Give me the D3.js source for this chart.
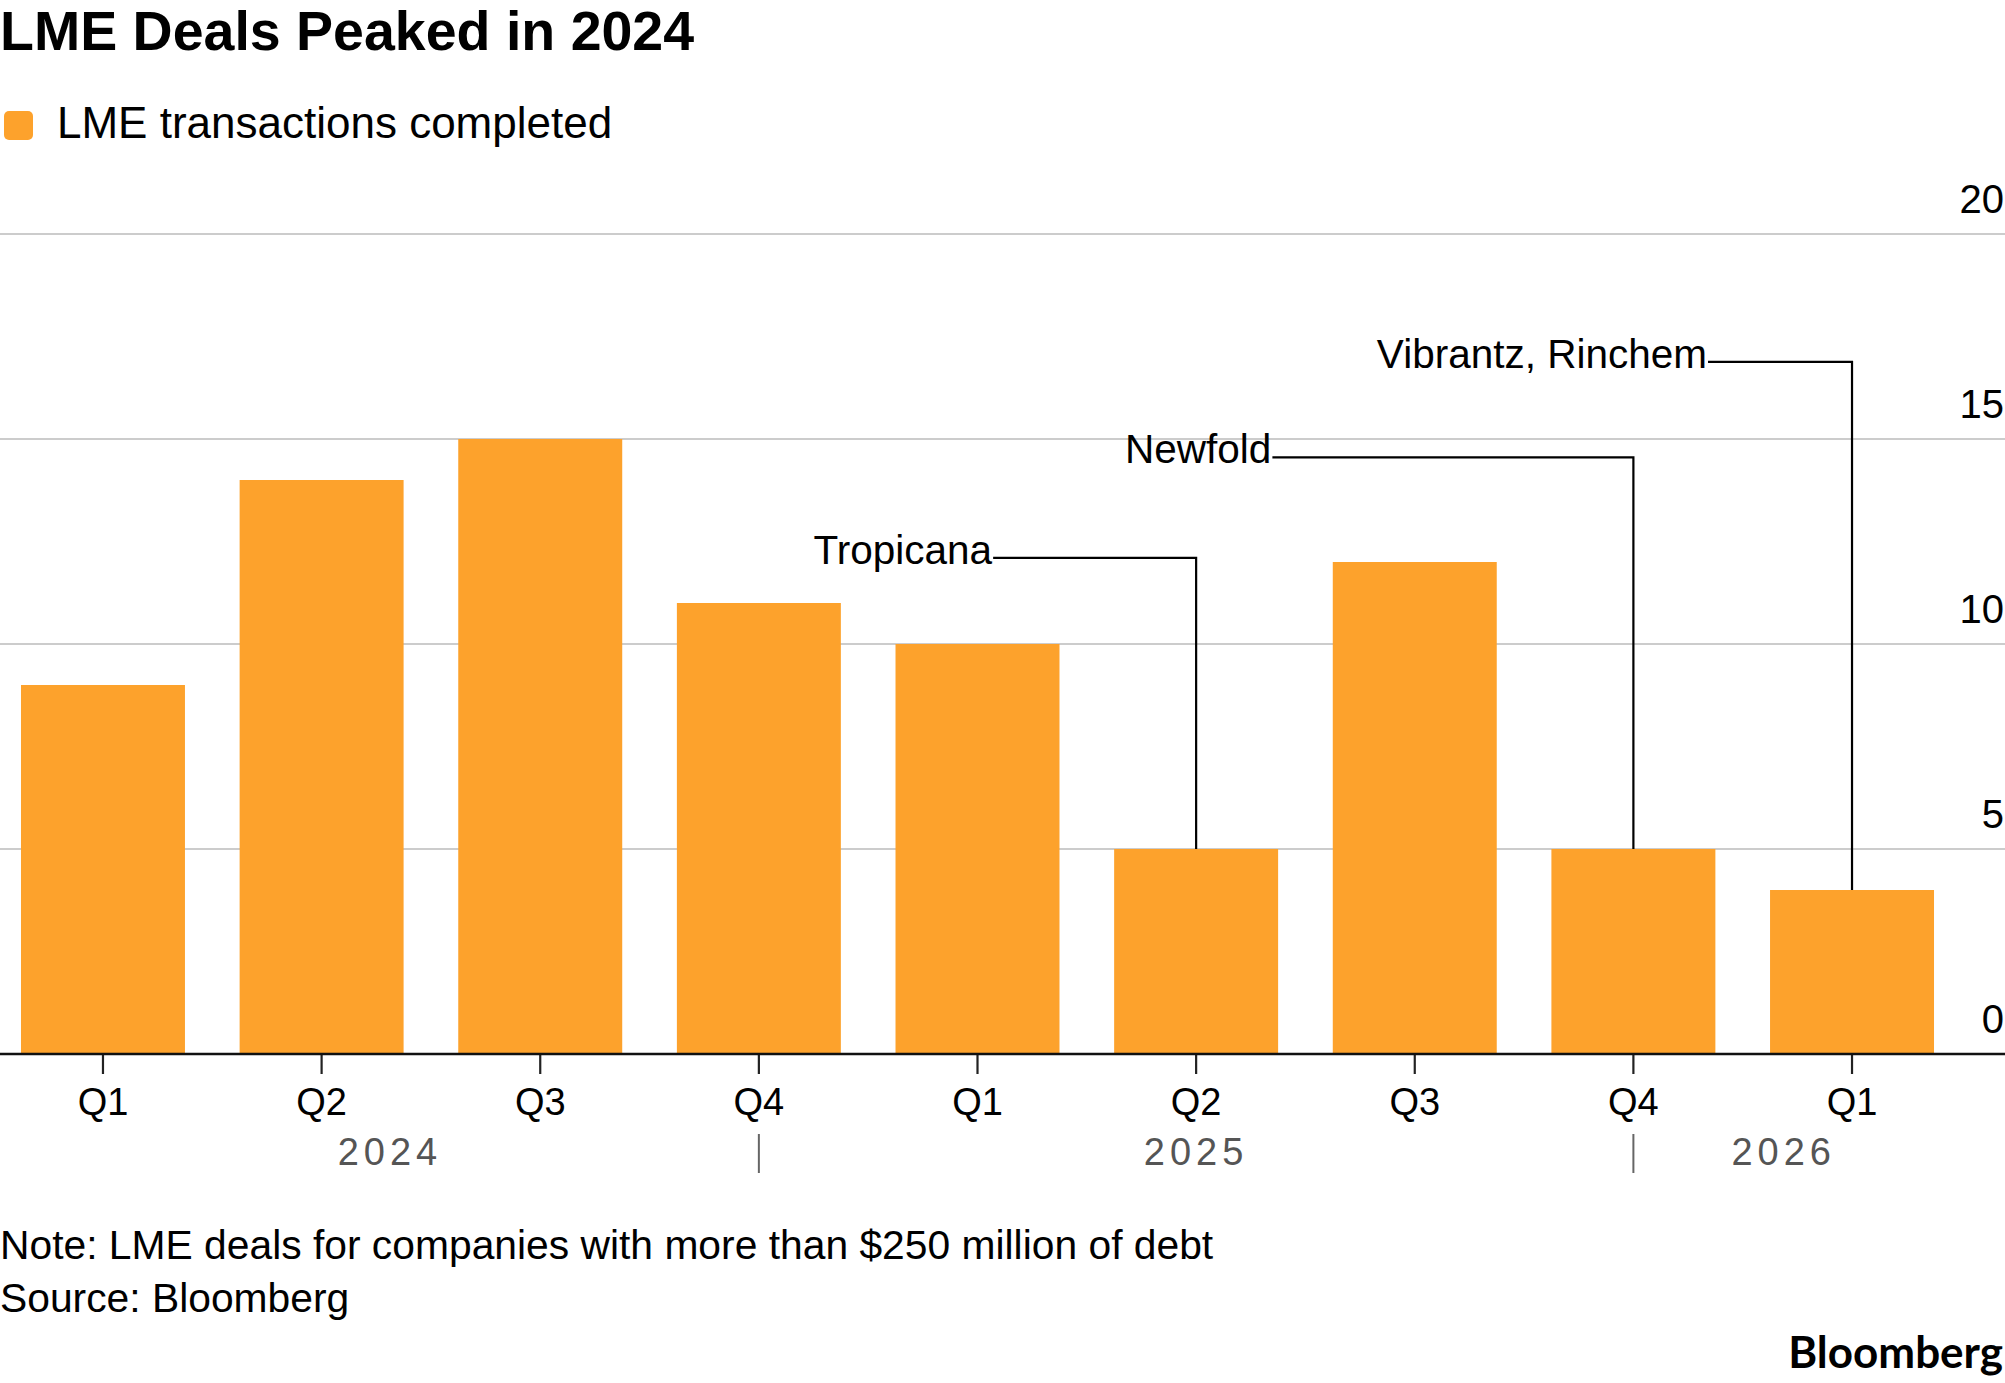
<!DOCTYPE html>
<html>
<head>
<meta charset="utf-8">
<script src="https://cdn.jsdelivr.net/npm/d3@7"></script>
<style>
  html, body { margin: 0; padding: 0; background: #ffffff; }
  svg { display: block; }
  text { font-family: "Liberation Sans", Arial, Helvetica, sans-serif; }
</style>
</head>
<body>
<svg id="chart" width="2005" height="1383"></svg>
<script>
// ---------- DATA ----------
const quarters = ["Q1", "Q2", "Q3", "Q4", "Q1", "Q2", "Q3", "Q4", "Q1"];
const periodKeys = ["2024Q1", "2024Q2", "2024Q3", "2024Q4", "2025Q1", "2025Q2", "2025Q3", "2025Q4", "2026Q1"];
const transactions = [9, 14, 15, 11, 10, 5, 12, 5, 4];
const yTicks = [0, 5, 10, 15, 20];
const yearLabels = ["2024", "2025", "2026"];
const yearBreakKeys = ["2024Q4", "2025Q4"];   // separators drawn at these quarters
const annotationLabels = ["Tropicana", "Newfold", "Vibrantz, Rinchem"];
const annotationKeys = ["2025Q2", "2025Q4", "2026Q1"];

const title = "LME Deals Peaked in 2024";
const legendLabel = "LME transactions completed";
const note = "Note: LME deals for companies with more than $250 million of debt";
const source = "Source: Bloomberg";

// ---------- LAYOUT ----------
const W = 2005, H = 1383;
const ORANGE = "#fda22c";
const yBase = 1054, yTop = 234;
// annotation layout: label level (in chart units) and horizontal leader length (px)
const annLevel = [12.1, 14.55, 16.88];
const annLeader = [203, 361, 144];

const svg = d3.select("#chart");

const x = d3.scaleBand()
  .domain(periodKeys)
  .range([0, 1955])
  .paddingInner(0.25)
  .paddingOuter(0.096);

const y = d3.scaleLinear().domain([0, 20]).range([yBase, yTop]);

// title
svg.append("text")
  .attr("x", 0).attr("y", 50)
  .attr("font-size", 55.5).attr("font-weight", 700).attr("fill", "#000")
  .text(title);

// legend
svg.append("rect")
  .attr("x", 4).attr("y", 111).attr("width", 29).attr("height", 29).attr("rx", 5)
  .attr("fill", ORANGE);
svg.append("text")
  .attr("x", 57).attr("y", 138)
  .attr("font-size", 44).attr("fill", "#000")
  .text(legendLabel);

// gridlines
const grid = svg.append("g");
grid.selectAll("line")
  .data(yTicks.filter(d => d > 0))
  .join("line")
  .attr("x1", 0).attr("x2", W)
  .attr("y1", d => y(d)).attr("y2", d => y(d))
  .attr("stroke", "#cccccc").attr("stroke-width", 2.2);

// y labels (above gridlines, right aligned)
svg.append("g").selectAll("text")
  .data(yTicks)
  .join("text")
  .attr("x", 2004).attr("y", d => y(d) - 21)
  .attr("text-anchor", "end")
  .attr("font-size", 40).attr("fill", "#000")
  .text(d => d);

// bars
svg.append("g").selectAll("rect")
  .data(periodKeys.map((k, i) => ({ key: k, value: transactions[i] })))
  .join("rect")
  .attr("x", d => x(d.key))
  .attr("width", x.bandwidth())
  .attr("y", d => y(d.value))
  .attr("height", d => y(0) - y(d.value))
  .attr("fill", ORANGE);

// annotations
const cx = k => x(k) + x.bandwidth() / 2;
annotationLabels.forEach((label, i) => {
  const k = annotationKeys[i];
  const xc = cx(k);
  const ly = y(annLevel[i]);
  const v = transactions[periodKeys.indexOf(k)];
  const xs = xc - annLeader[i];
  svg.append("path")
    .attr("d", `M${xs},${ly}H${xc}V${y(v)}`)
    .attr("fill", "none").attr("stroke", "#000").attr("stroke-width", 2.2);
  svg.append("text")
    .attr("x", xs - 1).attr("y", ly + 6)
    .attr("text-anchor", "end")
    .attr("font-size", 40.5).attr("fill", "#000")
    .text(label);
});

// x axis
const xAxis = d3.axisBottom(x)
  .tickSize(20)
  .tickPadding(14)
  .tickFormat((d, i) => quarters[i]);
const gx = svg.append("g")
  .attr("transform", `translate(0,${yBase})`)
  .call(xAxis);
gx.select(".domain").remove();
gx.selectAll(".tick line").attr("stroke", "#222").attr("stroke-width", 2.2);
gx.selectAll(".tick text")
  .attr("font-size", 38).attr("fill", "#000")
  .attr("font-family", "'Liberation Sans', Arial, sans-serif");

// baseline
svg.append("line")
  .attr("x1", 0).attr("x2", W)
  .attr("y1", yBase).attr("y2", yBase)
  .attr("stroke", "#111").attr("stroke-width", 2.6);

// year separators and labels
const bounds = [x(periodKeys[0])]
  .concat(yearBreakKeys.map(cx))
  .concat([x(periodKeys[periodKeys.length - 1]) + x.bandwidth()]);
svg.append("g").selectAll("line")
  .data(yearBreakKeys)
  .join("line")
  .attr("x1", d => cx(d)).attr("x2", d => cx(d))
  .attr("y1", 1134).attr("y2", 1173)
  .attr("stroke", "#666").attr("stroke-width", 2);
svg.append("g").selectAll("text")
  .data(yearLabels)
  .join("text")
  .attr("x", (d, i) => (bounds[i] + bounds[i + 1]) / 2)
  .attr("y", 1165)
  .attr("text-anchor", "middle")
  .attr("font-size", 38).attr("fill", "#555")
  .attr("letter-spacing", 5)
  .text(d => d);

// footer
svg.append("text")
  .attr("x", 0).attr("y", 1259)
  .attr("font-size", 40.8).attr("fill", "#000")
  .text(note);
svg.append("text")
  .attr("x", 0).attr("y", 1312)
  .attr("font-size", 40.8).attr("fill", "#000")
  .text(source);
svg.append("text")
  .attr("x", 2003).attr("y", 1368)
  .attr("text-anchor", "end")
  .attr("font-size", 44).attr("font-weight", 700).attr("fill", "#000")
  .style("font-family", "Lato, 'Open Sans', sans-serif")
  .text("Bloomberg");
</script>
</body>
</html>
